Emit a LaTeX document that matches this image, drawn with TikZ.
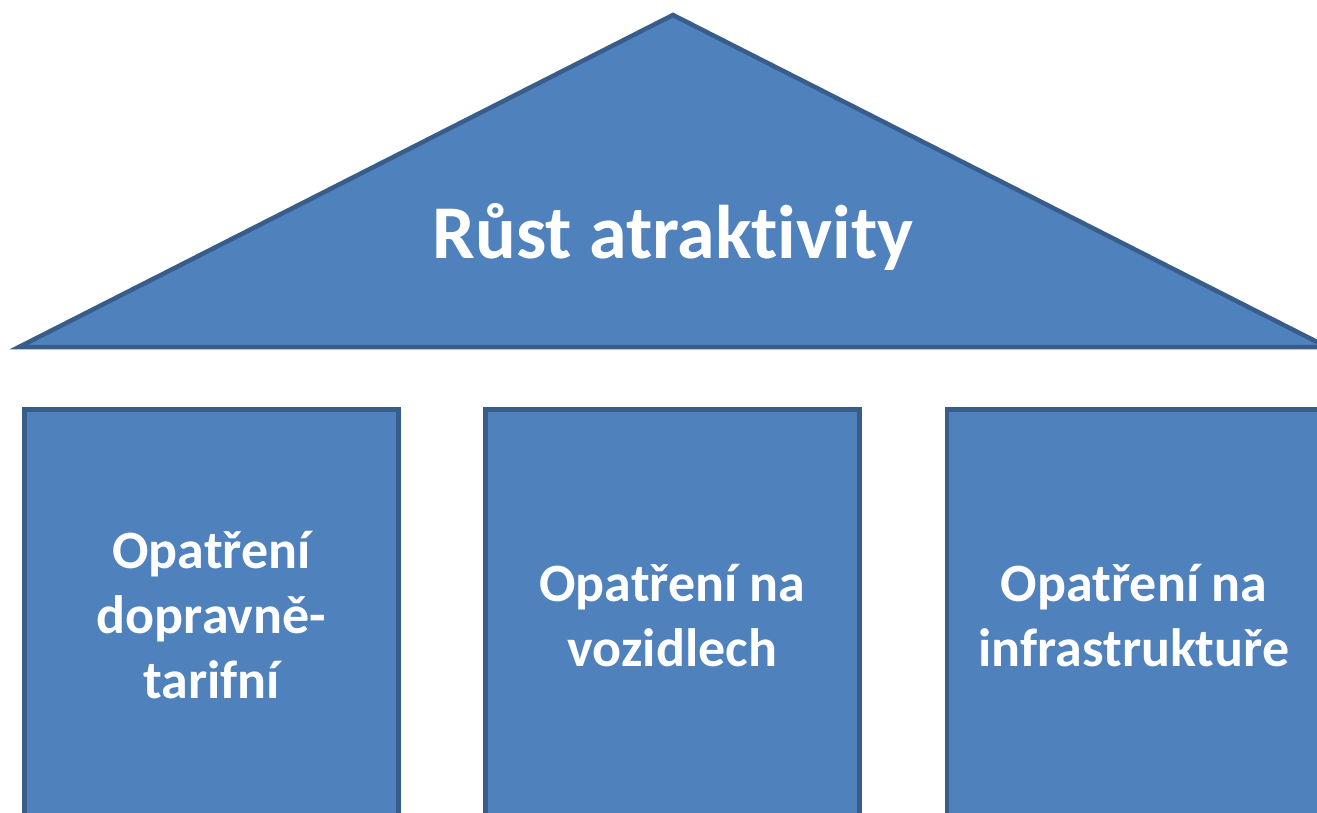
\documentclass[tikz,border=0pt]{standalone}
\usepackage{fontspec}
\setmainfont[Ligatures=NoCommon]{Carlito}
\usetikzlibrary{positioning}

\definecolor{roofblue}{HTML}{4F81BD}
\definecolor{edgeblue}{HTML}{385D8A}

\begin{document}
\begin{tikzpicture}
	[x=1pt, y=-1pt, line width=4.5pt, line join=miter,
	 roof/.style = {draw=edgeblue, fill=roofblue},
	 pillar/.style = {draw=edgeblue, fill=roofblue, rectangle, minimum width=374pt, minimum height=412pt, anchor=north west, inner sep=0pt, outer sep=0pt},
	 label/.style = {text=white, font=\bfseries\fontsize{54}{65}\selectfont, align=center}]
	\useasboundingbox (0,0) rectangle (1317,813);
	\clip (0,0) rectangle (1317,813);
	% roof
	\coordinate (left) at (19,347);
	\coordinate (top) at (673,15);
	\coordinate (right) at (1327,347);
	\draw[roof] (left) -- (top) -- (right) -- cycle;
	\node[label, font=\bfseries\fontsize{76}{90}\selectfont] (title) at (673,237) {Růst atraktivity};
	% pillars
	\node[pillar] (1) at (24.5,409.5) {};
	\node[pillar, right = 87pt of 1] (2) {};
	\node[pillar, right = 87.5pt of 2] (3) {};
	\node[label] at (1) {Opatření\\dopravně-\\tarifní};
	\node[label] at (2) {Opatření na\\vozidlech};
	\node[label] at (3) {Opatření na\\infrastruktuře};
\end{tikzpicture}
\end{document}
